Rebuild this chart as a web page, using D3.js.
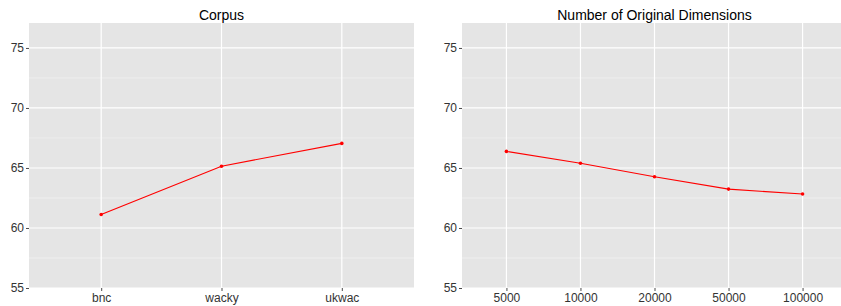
<!DOCTYPE html>
<html>
<head>
<meta charset="utf-8">
<script src="https://cdn.jsdelivr.net/npm/d3@7"></script>
<style>
  body { margin: 0; background: #fff; }
  svg { display: block; font-family: "Liberation Sans", Arial, sans-serif; }
</style>
</head>
<body>
<svg width="841" height="306"></svg>
<script>
// panel 1: corpus
const corpusCats = ["bnc", "wacky", "ukwac"];
const corpusVals = [61.13, 65.15, 67.05];

// panel 2: number of original dimensions
const dimCats = ["5000", "10000", "20000", "50000", "100000"];
const dimVals = [66.38, 65.4, 64.27, 63.24, 62.83];

const yTicks = [55, 60, 65, 70, 75];
const yMinor = [57.5, 62.5, 67.5, 72.5];

const TOP = 23, BOTTOM = 288;
const svg = d3.select('svg');

const y = d3.scaleLinear().domain([55, 77.08]).range([BOTTOM, TOP]);

function panel(left, width, title, cats, vals) {
  const g = svg.append('g');
  const x = d3.scalePoint().domain(cats).range([left, left + width]).padding(0.6);

  // background
  g.append('rect')
    .attr('x', left).attr('y', TOP)
    .attr('width', width).attr('height', BOTTOM - TOP)
    .attr('fill', '#e5e5e5');

  // minor grid
  g.selectAll('.minor').data(yMinor).enter().append('line')
    .attr('x1', left).attr('x2', left + width)
    .attr('y1', d => y(d)).attr('y2', d => y(d))
    .attr('stroke', '#f2f2f2').attr('stroke-width', 0.7);

  // major grid
  g.selectAll('.major').data(yTicks).enter().append('line')
    .attr('x1', left).attr('x2', left + width)
    .attr('y1', d => y(d)).attr('y2', d => y(d))
    .attr('stroke', '#fff').attr('stroke-width', 1.2);

  g.selectAll('.vgrid').data(cats).enter().append('line')
    .attr('x1', d => x(d)).attr('x2', d => x(d))
    .attr('y1', TOP).attr('y2', BOTTOM)
    .attr('stroke', '#fff').attr('stroke-width', 1.2);

  // axes
  const yAxis = g.append('g')
    .attr('transform', `translate(${left},0)`)
    .call(d3.axisLeft(y).tickValues(yTicks).tickSize(3).tickPadding(2));
  const xAxis = g.append('g')
    .attr('transform', `translate(0,${BOTTOM})`)
    .call(d3.axisBottom(x).tickSize(3).tickPadding(2));
  [yAxis, xAxis].forEach(a => {
    a.select('.domain').remove();
    a.selectAll('.tick line').attr('stroke', '#4d4d4d');
    a.selectAll('.tick text').attr('fill', '#333').style('font-size', '12px');
  });

  // line + points
  const pts = cats.map((c, i) => [x(c), y(vals[i])]);
  g.append('path')
    .attr('d', d3.line()(pts))
    .attr('fill', 'none').attr('stroke', '#ff0000').attr('stroke-width', 1.1);
  g.selectAll('.pt').data(pts).enter().append('circle')
    .attr('cx', d => d[0]).attr('cy', d => d[1]).attr('r', 1.8)
    .attr('fill', '#ff0000');

  // title
  g.append('text')
    .attr('x', left + width / 2).attr('y', 20)
    .attr('text-anchor', 'middle')
    .style('font-size', '14px')
    .attr('fill', '#000')
    .text(title);
}

panel(29, 385, "Corpus", corpusCats, corpusVals);
panel(462, 385, "Number of Original Dimensions", dimCats, dimVals);
</script>
</body>
</html>
